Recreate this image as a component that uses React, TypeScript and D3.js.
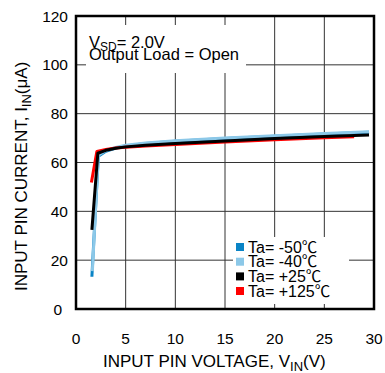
import React from "react";
import * as d3 from "d3";

const xTicks = [0, 5, 10, 15, 20, 25, 30];
const yTicks = [0, 20, 40, 60, 80, 100, 120];

const vM50 = [1.6, 2.25, 3, 4, 5, 7, 10, 15, 20, 25, 29.5];
const iM50 = [13.2, 62.6, 64.6, 65.9, 66.8, 67.8, 68.7, 69.8, 70.8, 71.7, 72.4];
const vM40 = [1.65, 2.25, 3, 4, 5, 7, 10, 15, 20, 25, 29.5];
const iM40 = [15.5, 63.0, 64.9, 66.2, 67.1, 68.0, 68.9, 70.0, 71.0, 71.9, 72.6];
const vP25 = [1.6, 2.2, 3, 4, 5, 7, 10, 15, 20, 25, 29.5];
const iP25 = [32.4, 63.8, 65.0, 65.8, 66.4, 67.1, 67.8, 68.8, 69.8, 70.6, 71.3];
const vP125 = [1.55, 2.1, 3, 4, 5, 7, 10, 15, 20, 25, 28];
const iP125 = [51.8, 64.5, 65.3, 65.9, 66.2, 66.8, 67.4, 68.4, 69.3, 70.1, 70.5];

const seriesLabels = ["Ta= -50", "Ta= -40", "Ta= +25", "Ta= +125"];
const seriesColors = ["#0a84c6", "#8cc8e8", "#000000", "#ff0000"];

const FONT = "'Liberation Sans', Arial, Helvetica, sans-serif";
const CJK = "'Noto Sans CJK SC', 'Noto Sans CJK JP', sans-serif";

export default function App() {
  const W = 385, H = 373;
  const x = d3.scaleLinear().domain([0, 30]).range([76, 374]);
  const y = d3.scaleLinear().domain([0, 120]).range([309, 16]);
  const line = d3.line<[number, number]>().x(d => x(d[0])).y(d => y(d[1]));
  const zip = (a: number[], b: number[]) => a.map((v, i) => [v, b[i]] as [number, number]);
  const series = [
    { v: vM50, i: iM50 },
    { v: vM40, i: iM40 },
    { v: vP25, i: iP25 },
    { v: vP125, i: iP125 },
  ];
  const drawOrder = [0, 1, 3, 2];
  const legendY = [247, 261.7, 276.4, 291];

  return (
    <svg width={W} height={H} style={{ position: "absolute", left: 0, top: 0, background: "#fff" }} fontFamily={FONT}>
      <rect x={0} y={0} width={W} height={H} fill="#fff" />
      {/* grid */}
      {xTicks.slice(1, -1).map(t => (
        <line key={"gx" + t} x1={x(t)} x2={x(t)} y1={y(120)} y2={y(0)} stroke="#333" strokeWidth={1} />
      ))}
      {yTicks.slice(1, -1).map(t => (
        <line key={"gy" + t} x1={x(0)} x2={x(30)} y1={y(t)} y2={y(t)} stroke="#333" strokeWidth={1} />
      ))}
      {/* annotation box */}
      <rect x={86} y={25} width={160} height={48} fill="#fff" />
      <text x={89} y={48} fontSize={16.5} fill="#000">
        V<tspan fontSize={12} dy={3}>SD</tspan><tspan dy={-3}>= 2.0V</tspan>
      </text>
      <text x={89} y={59.5} fontSize={16.5} fill="#000">Output Load = Open</text>
      {/* legend box */}
      <rect x={233} y={237} width={116} height={67} fill="#fff" />
      {/* curves */}
      {drawOrder.map(k => (
        <path key={"s" + k} d={line(zip(series[k].v, series[k].i)) || ""} fill="none"
          stroke={seriesColors[k]} strokeWidth={3} strokeLinejoin="round" />
      ))}
      {/* legend */}
      {seriesLabels.map((n, k) => (
        <g key={"lg" + k}>
          <rect x={236} y={legendY[k] - 4} width={8} height={8} fill={seriesColors[k]} />
          <text x={248} y={legendY[k] + 5.5} fontSize={16} fill="#000">
            {n}<tspan fontFamily={CJK} fontSize={15.5}>℃</tspan>
          </text>
        </g>
      ))}
      {/* border */}
      <rect x={x(0)} y={y(120)} width={x(30) - x(0)} height={y(0) - y(120)} fill="none" stroke="#000" strokeWidth={2.5} />
      {/* tick labels */}
      {yTicks.map(t => (
        <text key={"yl" + t} x={t === 0 ? 62 : 68} y={y(t) + 5.5} fontSize={15.5} textAnchor="end" fill="#000">{t}</text>
      ))}
      {xTicks.map(t => (
        <text key={"xl" + t} x={x(t)} y={344} fontSize={15.5} textAnchor="middle" fill="#000">{t}</text>
      ))}
      {/* axis titles */}
      <text x={103} y={367} fontSize={17} fill="#000">
        INPUT PIN VOLTAGE, V<tspan fontSize={13} dy={4}>IN</tspan><tspan dy={-4}>(V)</tspan>
      </text>
      <text transform="translate(27,291) rotate(-90)" fontSize={17} fill="#000">
        INPUT PIN CURRENT, I<tspan fontSize={13} dy={4}>IN</tspan><tspan dy={-4}>(μA)</tspan>
      </text>
    </svg>
  );
}
